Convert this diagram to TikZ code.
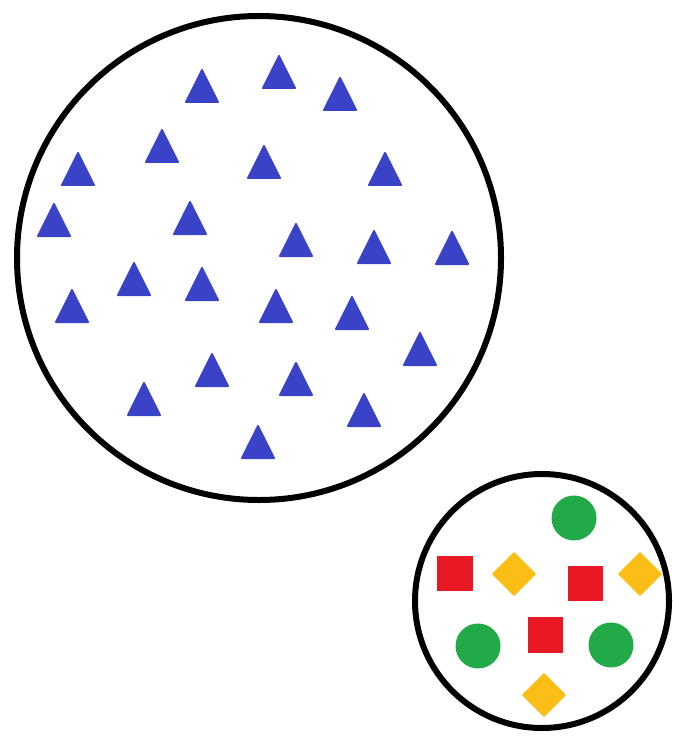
\documentclass[tikz,border=0pt]{standalone}
\definecolor{triblue}{RGB}{58,66,200}
\definecolor{dotgreen}{RGB}{34,170,72}
\definecolor{boxred}{RGB}{232,24,36}
\definecolor{gemyellow}{RGB}{250,190,22}
\tikzset{
  tri/.style={fill=triblue, draw=triblue, line width=0.06cm, line join=round},
  dot/.style={fill=dotgreen},
  box/.style={fill=boxred},
  gem/.style={fill=gemyellow, draw=gemyellow, line width=0.05cm, line join=round}
}
\begin{document}
\begin{tikzpicture}[x=0.03cm, y=-0.03cm]
    \useasboundingbox (0,0) rectangle (672,736);
    \coordinate (O1) at (259,258);
    \coordinate (O2) at (542,601);
    % big group: blue triangles (left, top corner of each)
    \foreach \l/\t in {185/69, 262/55, 323/77, 145/129, 61/152, 247/145,
        368/152, 37/203, 173/201, 279/223, 357/230, 435/231, 117/262,
        185/267, 55/289, 259/289, 335/296, 403/332, 195/353, 279/362,
        127/382, 347/393, 241/425}
        \draw[tri] (\l+1,\t+33) -- (\l+33,\t+33) -- (\l+17,\t+1) -- cycle;
    \draw[line width=0.18cm] (O1) circle [radius=242];
    % small group: mixed shapes
    \fill[dot] (574,518) circle [radius=22.5];
    \fill[dot] (478,646) circle [radius=22.5];
    \fill[dot] (611,645) circle [radius=22.5];
    \fill[box] (437,556) rectangle (473,591);
    \fill[box] (568,566) rectangle (603,601);
    \fill[box] (528,617) rectangle (563,653);
    \foreach \x/\y in {514/574, 640/574, 544/695}
        \draw[gem] (\x,\y-21) -- (\x+21,\y) -- (\x,\y+21) -- (\x-21,\y) -- cycle;
    \draw[line width=0.18cm] (O2) circle [radius=127];
\end{tikzpicture}
\end{document}
